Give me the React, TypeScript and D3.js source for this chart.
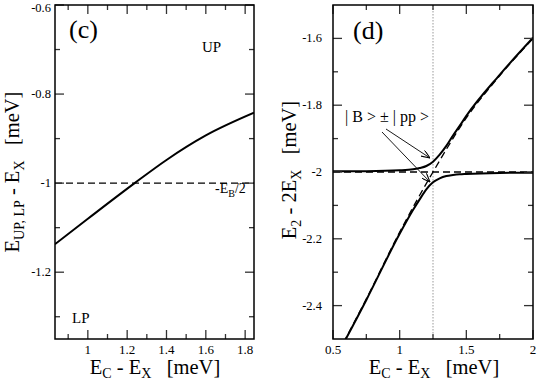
import React from "react";
import * as d3 from "d3";

// panel (c): polariton branch vs detuning
const cCurveX = [0.833, 1.0, 1.238, 1.4, 1.6, 1.845];
const cCurveY = [-1.137, -1.08, -1.0, -0.948, -0.893, -0.842];
const cDashY = -1;
const cXTicks = [1, 1.2, 1.4, 1.6, 1.8];
const cXMinor = [0.9, 1.1, 1.3, 1.5, 1.7];
const cYTicks = [-0.6, -0.8, -1, -1.2];
const cYMinor = [-0.7, -0.9, -1.1, -1.3];

// panel (d): two-particle states, anticrossing
const dX = [0.5, 0.75, 1.0, 1.1, 1.15, 1.2, 1.25, 1.3, 1.35, 1.4, 1.45, 1.5, 1.75, 2.0];
const dUpper = [-1.998, -1.9975, -1.995, -1.992, -1.988, -1.982, -1.969, -1.948, -1.922, -1.891, -1.862, -1.832, -1.709, -1.598];
const dLower = [-2.572, -2.383, -2.185, -2.114, -2.082, -2.052, -2.031, -2.019, -2.012, -2.009, -2.007, -2.006, -2.003, -2.002];
const ppX = [0.5, 0.75, 1.0, 1.25, 1.5, 1.75, 2.0];
const ppY = [-2.57, -2.38, -2.18, -2.0, -1.838, -1.712, -1.6];
const dBiexY = -2;
const dResonance = 1.25;
const dXTicks = [0.5, 1, 1.5, 2];
const dXMinor = [0.75, 1.25, 1.75];
const dYTicks = [-1.6, -1.8, -2, -2.2, -2.4];
const dYMinor = [-1.7, -1.9, -2.1, -2.3];

const FONT = "Liberation Serif";
const TICK = "#333";

const Frame = ({ x, y, xt, xm, yt, ym, yLabelX }) => {
  const [x0, x1] = x.range();
  const [y0, y1] = y.range(); // y0 bottom, y1 top
  const fmt = (v) => String(+v.toFixed(2));
  return (
    <g>
      {xt.map((v) => (
        <g key={"xt" + v}>
          <line x1={x(v)} x2={x(v)} y1={y0} y2={y0 - 9} stroke={TICK} strokeWidth={1.3} />
          <line x1={x(v)} x2={x(v)} y1={y1} y2={y1 + 9} stroke={TICK} strokeWidth={1.3} />
          <text x={x(v)} y={y0 + 15} textAnchor="middle" fontSize={13}>{fmt(v)}</text>
        </g>
      ))}
      {xm.map((v) => (
        <g key={"xm" + v}>
          <line x1={x(v)} x2={x(v)} y1={y0} y2={y0 - 5} stroke={TICK} strokeWidth={1.3} />
          <line x1={x(v)} x2={x(v)} y1={y1} y2={y1 + 5} stroke={TICK} strokeWidth={1.3} />
        </g>
      ))}
      {yt.map((v) => (
        <g key={"yt" + v}>
          <line x1={x0} x2={x0 + 9} y1={y(v)} y2={y(v)} stroke={TICK} strokeWidth={1.3} />
          <line x1={x1} x2={x1 - 9} y1={y(v)} y2={y(v)} stroke={TICK} strokeWidth={1.3} />
          <text x={yLabelX} y={Math.max(y(v) + 4, 12)} textAnchor="end" fontSize={12.5}>{fmt(v)}</text>
        </g>
      ))}
      {ym.map((v) => (
        <g key={"ym" + v}>
          <line x1={x0} x2={x0 + 5} y1={y(v)} y2={y(v)} stroke={TICK} strokeWidth={1.3} />
          <line x1={x1} x2={x1 - 5} y1={y(v)} y2={y(v)} stroke={TICK} strokeWidth={1.3} />
        </g>
      ))}
      <rect x={x0} y={y1} width={x1 - x0} height={y0 - y1} fill="none" stroke="#000" strokeWidth={1.5} />
    </g>
  );
};

const XLabel = ({ cx }) => (
  <text x={cx} y={374} textAnchor="middle" fontSize={20.5} style={{ whiteSpace: "pre" }}>
    E<tspan fontSize={14} dy={4}>C</tspan>
    <tspan dy={-4}> - E</tspan>
    <tspan fontSize={14} dy={4}>X</tspan>
    <tspan dy={-4}>{"   [meV]"}</tspan>
  </text>
);

export default function App() {
  // scales
  const cx = d3.scaleLinear().domain([0.833, 1.845]).range([55, 254]);
  const cy = d3.scaleLinear().domain([-1.35, -0.6]).range([339, 5]);
  const dx = d3.scaleLinear().domain([0.5, 2]).range([333, 533]);
  const dy = d3.scaleLinear().domain([-2.5, -1.5]).range([339, 5]);

  const cLine = d3.line().x((d) => cx(d[0])).y((d) => cy(d[1])).curve(d3.curveMonotoneX);
  const dLine = d3.line().x((d) => dx(d[0])).y((d) => dy(d[1])).curve(d3.curveMonotoneX);

  const cPts = cCurveX.map((v, i) => [v, cCurveY[i]]);
  const upPts = dX.map((v, i) => [v, dUpper[i]]);
  const lowPts = dX.map((v, i) => [v, dLower[i]]);
  const ppPts = ppX.map((v, i) => [v, ppY[i]]);

  return (
    <svg width={537} height={382} fontFamily={FONT}
      style={{ position: "absolute", left: 0, top: 0, background: "#fff" }}>
      <defs>
        <clipPath id="clipC"><rect x={55} y={5} width={199} height={334} /></clipPath>
        <clipPath id="clipD"><rect x={333} y={5} width={200} height={334} /></clipPath>
        <marker id="arr" viewBox="0 0 10 8" refX={10} refY={4} markerWidth={9} markerHeight={7}
          markerUnits="userSpaceOnUse" orient="auto">
          <path d="M0,0 L10,4 L0,8" fill="none" stroke="#000" strokeWidth={1.2} />
        </marker>
      </defs>

      {/* panel (c) */}
      <g clipPath="url(#clipC)">
        <line x1={55} x2={254} y1={cy(cDashY)} y2={cy(cDashY)} stroke="#000" strokeWidth={1.3} strokeDasharray="7,4" />
        <path d={cLine(cPts)} fill="none" stroke="#000" strokeWidth={2} />
      </g>
      <Frame x={cx} y={cy} xt={cXTicks} xm={cXMinor} yt={cYTicks} ym={cYMinor} yLabelX={51} />
      <text x={69} y={38} fontSize={26}>(c)</text>
      <text x={202} y={52} fontSize={15}>UP</text>
      <text x={72} y={323} fontSize={15}>LP</text>
      <text x={215} y={193} fontSize={14}>
        -E<tspan fontSize={10} dy={4}>B</tspan><tspan dy={-4}>/2</tspan>
      </text>
      <text transform="translate(19,172) rotate(-90)" textAnchor="middle" fontSize={20.5} style={{ whiteSpace: "pre" }}>
        E<tspan fontSize={14} dy={5}>UP, LP</tspan>
        <tspan dy={-5}> - E</tspan>
        <tspan fontSize={14} dy={5}>X</tspan>
        <tspan dy={-5}>{"   [meV]"}</tspan>
      </text>
      <XLabel cx={155} />

      {/* panel (d) */}
      <g clipPath="url(#clipD)">
        <line x1={dx(dResonance)} x2={dx(dResonance)} y1={5} y2={339} stroke="#999" strokeWidth={1} strokeDasharray="1.5,1.5" />
        <line x1={333} x2={533} y1={dy(dBiexY)} y2={dy(dBiexY)} stroke="#000" strokeWidth={1.3} strokeDasharray="7,4" />
        <path d={dLine(ppPts)} fill="none" stroke="#000" strokeWidth={1.3} strokeDasharray="7,4" />
        <path d={dLine(upPts)} fill="none" stroke="#000" strokeWidth={2} />
        <path d={dLine(lowPts)} fill="none" stroke="#000" strokeWidth={2} />
      </g>
      <Frame x={dx} y={dy} xt={dXTicks} xm={dXMinor} yt={dYTicks} ym={dYMinor} yLabelX={322} />
      <text x={353} y={39} fontSize={26}>(d)</text>
      <text x={345} y={122} fontSize={16} style={{ whiteSpace: "pre" }}>{"| B > \u00b1 | pp >"}</text>
      <line x1={386} y1={129} x2={430} y2={158} stroke="#000" strokeWidth={0.9} markerEnd="url(#arr)" />
      <line x1={382} y1={132} x2={430} y2={182} stroke="#000" strokeWidth={0.9} markerEnd="url(#arr)" />
      <text transform="translate(296,170) rotate(-90)" textAnchor="middle" fontSize={20.5} style={{ whiteSpace: "pre" }}>
        E<tspan fontSize={14} dy={5}>2</tspan>
        <tspan dy={-5}> - 2E</tspan>
        <tspan fontSize={14} dy={5}>X</tspan>
        <tspan dy={-5}>{"   [meV]"}</tspan>
      </text>
      <XLabel cx={434} />
    </svg>
  );
}
